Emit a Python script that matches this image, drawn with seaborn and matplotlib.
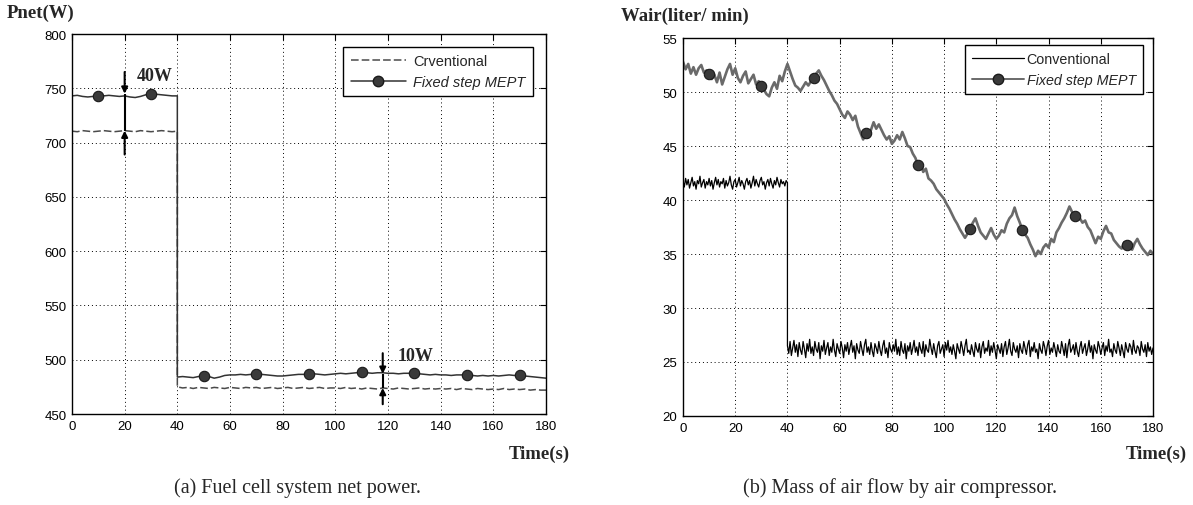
import numpy as np
import matplotlib
matplotlib.use("Agg")
import matplotlib.pyplot as plt
from matplotlib.lines import Line2D
import seaborn as sns

# ---------------- data: (a) net power ----------------
t_a1 = np.arange(0, 41, 2)          # 0..40 s
t_a2 = np.arange(40, 181, 2)        # 40..180 s
conv_a1 = [710.5, 710, 711, 710.5, 710, 710.5, 711, 710.5, 710, 710.5, 711,
           710.5, 710, 711, 710.5, 710, 710.5, 711, 710.5, 710, 710.5]
mept_a1 = [743, 743.5, 742.5, 742, 742.5, 742.5, 743, 743.5, 743, 742.5, 743,
           742, 741.5, 742.5, 744, 744.5, 744.5, 744, 743.5, 743, 743]
conv_a2 = [475, 474, 474.5, 473.5, 474.5, 474, 473.5, 474.5, 474, 473.5,
           474.5, 474, 473.5, 474.5, 474, 474.5, 473.5, 474, 474.5, 473.5,
           474, 474.5, 473.5, 474, 474.5, 473.5, 474, 474.5, 473.5, 474,
           474, 473.5, 474.5, 473.5, 474, 473, 474, 473.5, 473, 474,
           473.5, 473, 474, 473.5, 473, 473.5, 474, 473, 473.5, 473,
           473.5, 473, 473.5, 472.5, 473.5, 473, 472.5, 473.5, 473, 472.5,
           473, 472.5, 473.5, 472.5, 473, 472.5, 473, 472, 472.5, 472,
           472]
mept_a2 = [484, 484.5, 484, 483.5, 484.5, 485, 484.5, 483, 484, 485.5,
           486, 486, 486.5, 486, 486.5, 487, 486.5, 486, 485.5, 485,
           485, 485.5, 486, 486.5, 486.5, 487, 487, 486.5, 486, 486.5,
           487, 487.5, 487, 487.5, 488, 488.5, 488, 487.5, 488, 488,
           487.5, 487.5, 487, 487.5, 487.5, 487.5, 487, 486.5, 486, 486.5,
           486, 486, 485.5, 486, 486, 486, 485.5, 485, 485.5, 485,
           485.5, 485, 485.5, 486, 485.5, 486, 485, 484.5, 484, 483.5,
           483]
marker_times = [10, 30, 50, 70, 90, 110, 130, 150, 170]

# ---------------- data: (b) air flow ----------------
t_b = np.arange(0, 181, 1)
mept_b = [52.8, 52.1, 52.6, 51.7, 52.3, 51.6, 52.2, 52.5, 51.8, 52.0,
          51.7, 51.2, 51.6, 50.9, 51.8, 50.7, 51.4, 52.1, 52.6, 51.6,
          52.2, 51.3, 50.9, 51.5, 51.9, 50.8, 51.2, 51.6, 50.7, 51.0,
          50.6, 50.2, 49.8, 49.6, 50.4, 50.9, 50.3, 51.5, 51.0, 51.9,
          52.6, 51.9, 51.2, 50.6, 50.4, 50.1, 50.5, 50.9, 50.6, 51.0,
          51.3, 51.7, 52.0, 51.5, 51.1, 50.6, 50.1, 49.7, 49.2, 48.9,
          48.4, 47.9, 47.6, 48.2, 47.9, 47.4, 47.8, 46.8, 46.2, 45.6,
          46.2, 45.8, 46.5, 47.2, 46.6, 47.0, 46.5, 46.0, 45.6, 45.9,
          45.2, 45.5, 46.0, 45.6, 46.3, 45.7, 45.0, 44.9, 44.3, 43.9,
          43.2, 43.5, 42.6, 42.9, 42.0, 41.8, 41.5, 41.0, 40.7, 40.4,
          40.1, 39.6, 39.2, 38.7, 38.2, 37.8, 37.3, 36.9, 36.5, 36.9,
          37.3, 37.9, 38.3, 37.6, 37.0, 36.7, 36.4, 36.9, 37.4, 36.8,
          36.4, 36.7, 37.2, 37.0, 37.8, 38.3, 38.6, 39.3, 38.5, 37.9,
          37.2, 36.8, 36.5, 35.9, 35.4, 34.8, 35.3, 35.0, 35.6, 35.9,
          35.6, 36.4, 36.1, 37.0, 37.4, 37.9, 38.3, 38.8, 39.4, 38.9,
          38.5, 38.8, 38.3, 37.9, 38.1, 37.5, 37.2, 36.6, 36.0, 36.6,
          36.4, 37.1, 37.6, 37.0, 36.9, 36.3, 36.0, 35.7, 35.5, 36.1,
          35.8, 35.6, 35.4, 36.0, 36.4, 35.9, 35.5, 35.2, 34.9, 35.3,
          35.0]
t_c1 = np.arange(0, 40.25, 0.5)
t_c2 = np.arange(40, 180.25, 0.5)
conv_b1 = [41.8, 41.2, 42.0, 41.4, 41.9, 41.1, 41.6, 42.1, 41.3, 41.7,
           41.0, 41.8, 41.5, 42.2, 41.2, 41.6, 41.9, 41.1, 41.7, 41.4,
           42.0, 41.3, 41.8, 41.0, 41.6, 42.1, 41.4, 41.9, 41.2, 41.7,
           41.5, 42.0, 41.1, 41.8, 41.3, 41.6, 42.2, 41.4, 41.0, 41.7,
           41.9, 41.2, 41.6, 42.1, 41.3, 41.8, 41.5, 41.0, 41.7, 42.0,
           41.4, 41.8, 41.1, 41.6, 42.2, 41.3, 41.9, 41.5, 41.2, 41.8,
           42.1, 41.4, 41.7, 41.0, 41.6, 41.9, 41.3, 42.0, 41.5, 41.1,
           41.8, 41.4, 42.1, 41.6, 41.2, 41.9, 41.5, 41.7, 41.3, 41.8,
           41.6]
conv_b2 = [26.5, 25.8, 26.9, 25.6, 26.3, 27.0, 25.9, 26.6, 25.5, 26.8,
           26.1, 25.7, 26.9, 26.2, 25.4, 26.7, 26.0, 27.1, 25.8, 26.4,
           25.6, 26.9, 26.2, 25.9, 26.8, 25.3, 26.5, 26.0, 27.0, 25.7,
           26.3, 26.8, 25.6, 26.4, 25.9, 27.1, 26.1, 25.5, 26.7, 26.2,
           25.8, 26.9, 26.3, 25.4, 26.6, 26.0, 26.8, 25.7, 26.4, 27.0,
           25.9, 26.5, 25.3, 26.7, 26.1, 25.8, 26.9, 26.2, 25.6, 26.6,
           27.1, 25.9, 26.4, 25.7, 26.8, 26.0, 25.5, 26.7, 26.3, 25.8,
           26.9, 26.1, 25.6, 26.5, 27.0, 25.8, 26.3, 25.4, 26.8, 26.2,
           25.9, 26.6, 26.0, 27.1, 25.7, 26.4, 25.6, 26.9, 26.1, 25.8,
           26.7, 25.3, 26.5, 26.0, 26.8, 25.7, 26.3, 27.0, 25.9, 26.4,
           25.6, 26.8, 26.2, 25.8, 26.9, 25.5, 26.6, 26.1, 25.9, 27.1,
           26.3, 25.7, 26.7, 26.0, 25.4, 26.5, 26.9, 25.8, 26.2, 26.6,
           25.5, 26.8, 26.1, 27.0, 25.9, 26.4, 25.7, 26.6, 26.0, 25.3,
           26.7, 26.2, 25.8, 26.9, 26.3, 25.6, 26.5, 27.1, 25.9, 26.1,
           25.7, 26.6, 26.0, 25.5, 26.8, 26.2, 25.9, 26.7, 25.4, 26.4,
           26.9, 25.8, 26.3, 26.0, 27.0, 25.6, 26.5, 25.9, 26.8, 26.1,
           25.3, 26.6, 26.2, 25.8, 26.7, 25.5, 26.4, 26.9, 25.7, 26.3,
           27.1, 26.0, 25.6, 26.8, 26.2, 25.9, 26.5, 25.4, 26.7, 26.1,
           25.8, 26.9, 26.3, 25.7, 26.6, 27.0, 25.5, 26.4, 26.0, 26.8,
           25.9, 26.2, 25.3, 26.7, 26.1, 25.8, 26.9, 26.4, 25.6, 26.5,
           27.0, 25.7, 26.3, 25.9, 26.8, 26.2, 25.5, 26.6, 26.0, 25.8,
           26.9, 26.3, 25.6, 26.7, 25.4, 26.5, 27.1, 25.9, 26.2, 26.6,
           25.7, 26.8, 26.0, 25.5, 26.4, 26.9, 25.8, 26.3, 26.7, 25.6,
           26.2, 27.0, 25.9, 26.5, 25.3, 26.6, 26.1, 25.8, 26.9, 26.4,
           25.7, 26.3, 26.8, 25.6, 26.5, 26.0, 27.1, 25.9, 26.2, 25.5,
           26.7, 26.1, 25.8, 26.9, 26.3, 25.6, 26.6, 26.0, 25.4, 26.8,
           26.2, 25.9, 26.7, 26.4, 25.7, 27.0, 26.1, 25.8, 26.5, 26.3,
           25.6, 26.9, 26.2, 25.9, 26.6, 25.5, 26.8, 26.0, 26.4, 25.7,
           26.3]

x_ticks = [0, 20, 40, 60, 80, 100, 120, 140, 160, 180]
yticks_a = [450, 500, 550, 600, 650, 700, 750, 800]
yticks_b = [20, 25, 30, 35, 40, 45, 50, 55]
legend_a = ["Crventional", "Fixed step MEPT"]
legend_b = ["Conventional", "Fixed step MEPT"]

# ---------------- figure ----------------
sns.set_style("white")
plt.rcParams["font.family"] = ["Liberation Sans", "DejaVu Sans"]

W, H = 1193, 506
fig = plt.figure(figsize=(W / 100, H / 100), dpi=100)
axL = fig.add_axes([72 / W, 1 - 415 / H, (546 - 72) / W, (415 - 35) / H])
axR = fig.add_axes([683 / W, 1 - 417 / H, (1153 - 683) / W, (417 - 39) / H])

dash = (0, (5, 2))
grid_ls = (0, (1, 3))
MS = 7.5

# ---- (a) ----
tA = np.concatenate([t_a1, t_a2])
convA = np.concatenate([conv_a1, conv_a2])
meptA = np.concatenate([mept_a1, mept_a2])
idxA = [int(np.where(tA == m)[0][0]) for m in marker_times]

sns.lineplot(x=tA, y=convA, ax=axL, estimator=None, sort=False,
             color="#4a4a4a", lw=1.1, linestyle=dash, legend=False)
sns.lineplot(x=tA, y=meptA, ax=axL, estimator=None, sort=False,
             color="#333333", lw=1.1, marker="o", markevery=idxA, ms=MS,
             mfc="#3a3a3a", mec="#1a1a1a", mew=0.8, legend=False)

# ---- (b) ----
tC = np.concatenate([t_c1, t_c2])
convB = np.concatenate([conv_b1, conv_b2])
idxB = [int(np.where(t_b == m)[0][0]) for m in marker_times]

sns.lineplot(x=tC, y=convB, ax=axR, estimator=None, sort=False,
             color="black", lw=0.9, legend=False)
sns.lineplot(x=t_b, y=mept_b, ax=axR, estimator=None, sort=False,
             color="#6a6a6a", lw=1.9, marker="o", markevery=idxB, ms=MS,
             mfc="#3a3a3a", mec="#1a1a1a", mew=0.8, legend=False)

for ax, yt in ((axL, yticks_a), (axR, yticks_b)):
    ax.set_xlim(0, 180)
    ax.set_ylim(yt[0], yt[-1])
    ax.set_xticks(x_ticks)
    ax.set_yticks(yt)
    ax.set_xlabel("")
    ax.set_ylabel("")
    ax.set_axisbelow(True)
    ax.grid(True, color="black", linestyle=grid_ls, lw=0.7)
    ax.tick_params(direction="in", top=True, right=True, length=4, width=0.8,
                   labelsize=9.5, pad=4, colors="black")
    for s in ax.spines.values():
        s.set_visible(True)
        s.set_color("black")
        s.set_linewidth(1.0)

# legends (proxy handles)
hA = [Line2D([], [], color="#4a4a4a", lw=1.1, linestyle=dash),
      Line2D([], [], color="#333333", lw=1.1, marker="o", ms=MS,
             mfc="#3a3a3a", mec="#1a1a1a")]
legA = axL.legend(hA, legend_a, loc="upper right",
                  bbox_to_anchor=(533 / W, 1 - 48 / H), bbox_transform=fig.transFigure,
                  borderaxespad=0, frameon=True, fancybox=False, edgecolor="black",
                  framealpha=1, fontsize=10.5, handlelength=3.8, borderpad=0.5,
                  labelspacing=0.45, handletextpad=0.5)
legA.get_frame().set_linewidth(1.0)
legA.get_texts()[1].set_fontstyle("italic")

hB = [Line2D([], [], color="black", lw=0.9),
      Line2D([], [], color="#6a6a6a", lw=1.4, marker="o", ms=MS,
             mfc="#3a3a3a", mec="#1a1a1a")]
legB = axR.legend(hB, legend_b, loc="upper right",
                  bbox_to_anchor=(1143 / W, 1 - 46 / H), bbox_transform=fig.transFigure,
                  borderaxespad=0, frameon=True, fancybox=False, edgecolor="black",
                  framealpha=1, fontsize=10.3, handlelength=3.6, borderpad=0.5,
                  labelspacing=0.45, handletextpad=0.2)
legB.get_frame().set_linewidth(1.0)
legB.get_texts()[1].set_fontstyle("italic")

# annotations
arr = dict(arrowstyle="-|>", color="black", lw=1.5, mutation_scale=9,
           shrinkA=0, shrinkB=0)
axL.annotate("", xy=(20, 745), xytext=(20, 765), arrowprops=arr)
axL.annotate("", xy=(20, 711), xytext=(20, 689), arrowprops=arr)
axL.vlines(20, 711, 745, color="black", lw=1.5)
axL.text(24.5, 762, "40W", family="Liberation Serif", weight="bold",
         fontsize=13, ha="left", va="center")

axL.annotate("", xy=(118, 487), xytext=(118, 506), arrowprops=arr)
axL.annotate("", xy=(118, 474), xytext=(118, 459), arrowprops=arr)
axL.vlines(118, 474, 487, color="black", lw=1.5)
axL.text(123.5, 504, "10W", family="Liberation Serif", weight="bold",
         fontsize=13, ha="left", va="center")

# figure texts
serif = "Liberation Serif"
fig.text(7 / W, 1 - 13 / H, "Pnet(W)", family=serif, weight="bold",
         fontsize=13.5, ha="left", va="center")
fig.text(621 / W, 1 - 16 / H, "Wair(liter/ min)", family=serif, weight="bold",
         fontsize=13.5, ha="left", va="center")
fig.text(570 / W, 1 - 454 / H, "Time(s)", family=serif, weight="bold",
         fontsize=13.5, ha="right", va="center")
fig.text(1187 / W, 1 - 454 / H, "Time(s)", family=serif, weight="bold",
         fontsize=13.5, ha="right", va="center")
fig.text(297 / W, 1 - 488 / H, "(a) Fuel cell system net power.", family=serif,
         fontsize=14.5, ha="center", va="center")
fig.text(900 / W, 1 - 488 / H, "(b) Mass of air flow by air compressor.",
         family=serif, fontsize=14.5, ha="center", va="center")

fig.savefig("out.png", dpi=100)
